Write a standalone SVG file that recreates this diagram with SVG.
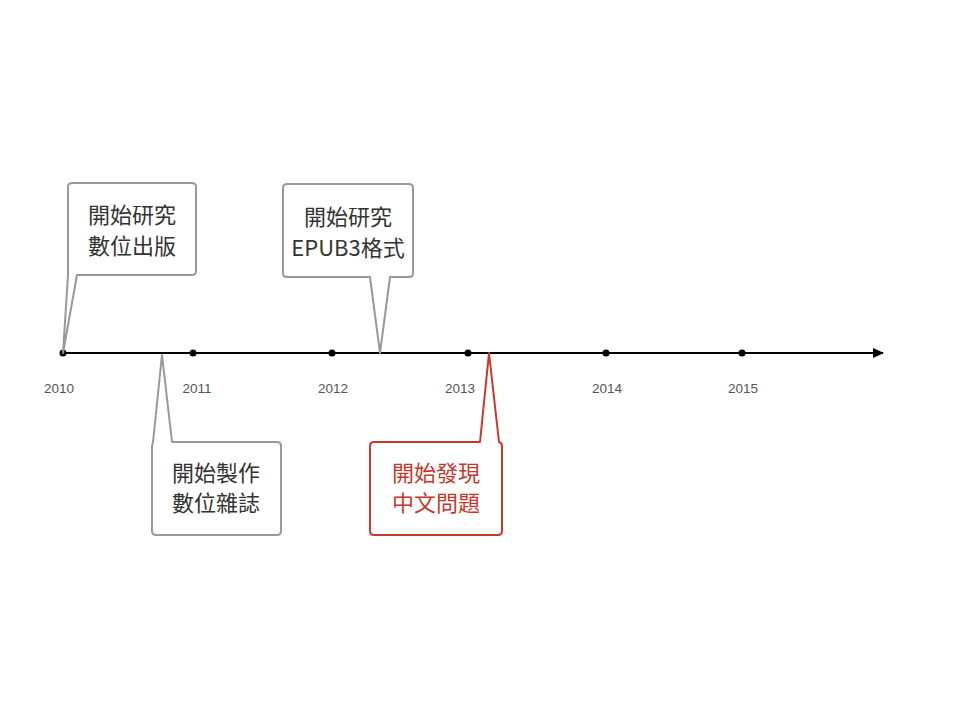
<svg xmlns="http://www.w3.org/2000/svg" width="959" height="720" viewBox="0 0 959 720">
<style>
.bg{fill:#ffffff}
.axis{stroke:#000;stroke-width:2;fill:none}
.dot{fill:#000}
.year{font-family:"Liberation Sans",Arial,sans-serif;font-size:13.5px;fill:#555;text-anchor:middle}
.call{fill:#fff;stroke:#999;stroke-width:2;stroke-linejoin:round}
.call.red{stroke:#c8392b}
.lbl{font-family:"Noto Sans CJK TC","Noto Sans",sans-serif;font-size:22px;fill:#333;text-anchor:middle}
.lbl.red{fill:#c0392b}
</style>
<defs>
<marker id="arr" markerWidth="12" markerHeight="10" refX="10" refY="5" orient="auto" markerUnits="userSpaceOnUse">
<path d="M0,0 L11,5 L0,10 Z" fill="#000"/>
</marker>
</defs>
<rect class="bg" x="0" y="0" width="959" height="720"/>
<g id="connectors">
<line class="axis" x1="63" y1="353" x2="883" y2="353" marker-end="url(#arr)"/>
</g>
<g id="ticks">
<circle class="dot" cx="63" cy="353" r="3.5"/>
<circle class="dot" cx="193" cy="353" r="3.5"/>
<circle class="dot" cx="332" cy="353" r="3.5"/>
<circle class="dot" cx="468" cy="353" r="3.5"/>
<circle class="dot" cx="606" cy="353" r="3.5"/>
<circle class="dot" cx="742" cy="353" r="3.5"/>
<text class="year" x="59" y="393">2010</text>
<text class="year" x="197" y="393">2011</text>
<text class="year" x="333" y="393">2012</text>
<text class="year" x="460" y="393">2013</text>
<text class="year" x="607" y="393">2014</text>
<text class="year" x="743" y="393">2015</text>
</g>
<g id="callout-2010">
<path class="call" d="M63,353 L68,275 L68,187 Q68,183 72,183 L192,183 Q196,183 196,187 L196,271 Q196,275 192,275 L77,275 Z"/>
<text class="lbl" x="132" y="223">開始研究</text>
<text class="lbl" x="132" y="254">數位出版</text>
</g>
<g id="callout-2012">
<path class="call" d="M287,184 L409,184 Q413,184 413,188 L413,273 Q413,277 409,277 L390,277 L380,353 L370,277 L287,277 Q283,277 283,273 L283,188 Q283,184 287,184 Z"/>
<text class="lbl" x="348" y="225">開始研究</text>
<text class="lbl" x="348" y="256">EPUB3格式</text>
</g>
<g id="callout-2011">
<path class="call" d="M162,355 L172,442 L277,442 Q281,442 281,446 L281,531 Q281,535 277,535 L156,535 Q152,535 152,531 L152,446 L153,442 Z"/>
<text class="lbl" x="216" y="481">開始製作</text>
<text class="lbl" x="216" y="511">數位雜誌</text>
</g>
<g id="callout-2013">
<path class="call red" d="M489,353 L499,442 Q502,443 502,446 L502,531 Q502,535 498,535 L374,535 Q370,535 370,531 L370,446 Q370,442 374,442 L480,442 Z"/>
<text class="lbl red" x="436" y="481">開始發現</text>
<text class="lbl red" x="436" y="511">中文問題</text>
</g>
</svg>
